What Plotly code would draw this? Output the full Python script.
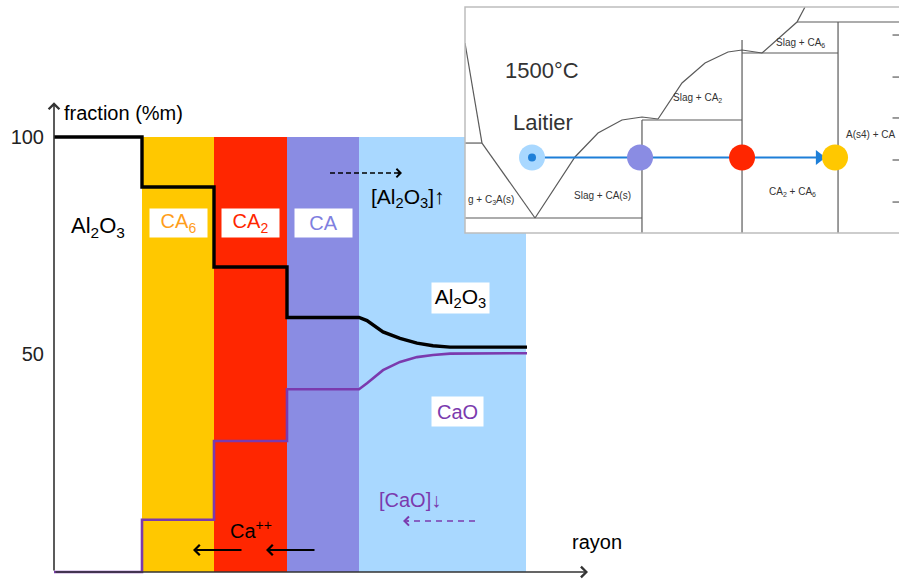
import plotly.graph_objects as go

# ---------------- main chart data ----------------
band_names = ["CA6", "CA2", "CA", "Laitier"]
band_edges = [88, 160, 233, 305, 472]          # rayon (a.u.)
band_colors = ["#FFC800", "#FF2600", "#8A8CE3", "#A9D8FF"]
band_top = 100

al2o3_x = [0, 88, 88, 160, 160, 233, 233, 305, 313, 329, 346, 363, 379, 396, 473]
al2o3_y = [100, 100, 88.5, 88.5, 70.1, 70.1, 58.5, 58.5, 57.8, 55.2, 53.7, 52.6, 52.0, 51.7, 51.7]
cao_x = [0, 88, 88, 160, 160, 233, 233, 305, 313, 329, 346, 363, 379, 396, 473]
cao_y = [0, 0, 12.0, 12.0, 30.1, 30.1, 42.0, 42.0, 43.4, 46.4, 48.3, 49.4, 49.9, 50.2, 50.3]

y_tick_vals = [50, 100]
y_tick_text = ["50", "100"]

# ---------------- inset (phase diagram) data ----------------
# x : wt% Al2O3, y : arbitrary 0-100
inset_lines = [
    [(40.2, 84.07), (42.56, 39.8)],
    [(40.2, 39.8), (42.56, 39.8)],
    [(42.56, 39.8), (49.93, 6.64)],
    [(49.93, 6.64), (52.71, 20.35), (55.48, 33.63), (58.68, 44.25), (62.01, 50.0), (64.79, 51.33), (67.02, 50.44)],
    [(40.2, 6.64), (64.79, 6.64)],
    [(64.79, 50.0), (64.79, 0)],
    [(64.79, 50.0), (78.69, 50.0)],
    [(67.02, 50.44), (70.35, 66.37), (73.55, 75.22), (76.74, 80.09), (78.69, 80.97), (81.47, 79.65)],
    [(78.69, 85.4), (78.69, 0)],
    [(78.69, 79.65), (92.03, 79.65)],
    [(81.47, 79.65), (86.33, 93.36), (87.44, 100)],
    [(86.33, 93.36), (100.5, 93.36)],
    [(92.03, 93.36), (92.03, 0)],
]
inset_ticks_y = [87.6, 69.0, 50.9, 32.3, 13.7]
path_x = [49.51, 64.52, 78.69, 91.61]
path_y = 33.4
path_colors = ["#A9D8FF", "#8A8CE3", "#FF2600", "#FFC800"]

FONT = "Liberation Sans, Arial, sans-serif"
PURPLE = "#7B3AAE"

fig = go.Figure()

# bands
centers = [(a + b) / 2 for a, b in zip(band_edges[:-1], band_edges[1:])]
widths = [b - a for a, b in zip(band_edges[:-1], band_edges[1:])]
fig.add_trace(go.Bar(x=centers, y=[band_top] * len(centers), width=widths, base=0,
                     marker=dict(color=band_colors, line=dict(width=0)),
                     hoverinfo="skip", xaxis="x", yaxis="y"))

fig.add_trace(go.Scatter(x=cao_x, y=cao_y, mode="lines",
                         line=dict(color=PURPLE, width=2.6), xaxis="x", yaxis="y"))
fig.add_trace(go.Scatter(x=al2o3_x, y=al2o3_y, mode="lines",
                         line=dict(color="black", width=3.4), xaxis="x", yaxis="y"))

# inset
fig.add_trace(go.Scatter(x=[40.2, 100.5, 100.5, 40.2, 40.2], y=[0, 0, 100, 100, 0],
                         fill="toself", fillcolor="white", mode="lines",
                         line=dict(width=0, color="white"), xaxis="x2", yaxis="y2"))
lx, ly = [], []
for seg in inset_lines:
    for p in seg:
        lx.append(p[0]); ly.append(p[1])
    lx.append(None); ly.append(None)
for v in inset_ticks_y:
    lx += [99.6, 100.5, None]; ly += [v, v, None]
fig.add_trace(go.Scatter(x=lx, y=ly, mode="lines", line=dict(color="#5a5a5a", width=1.2),
                         xaxis="x2", yaxis="y2"))
fig.add_trace(go.Scatter(x=[path_x[0], 89.0], y=[path_y, path_y], mode="lines",
                         line=dict(color="#1E7FD8", width=2), xaxis="x2", yaxis="y2"))
fig.add_trace(go.Scatter(x=[89.4], y=[path_y], mode="markers",
                         marker=dict(symbol="triangle-right", size=13, color="#1E7FD8"),
                         xaxis="x2", yaxis="y2"))
fig.add_trace(go.Scatter(x=path_x, y=[path_y] * len(path_x), mode="markers",
                         marker=dict(size=26, color=path_colors, line=dict(width=0)),
                         xaxis="x2", yaxis="y2"))
fig.add_trace(go.Scatter(x=[path_x[0]], y=[path_y], mode="markers",
                         marker=dict(size=8, color="#1E7FD8"), xaxis="x2", yaxis="y2"))

ann = []


def txt(x, y, text, color="black", size=20, xanchor="center", bg=None, w=None, h=None,
        xref="x", yref="y"):
    d = dict(x=x, y=y, text=text, showarrow=False, xref=xref, yref=yref,
             xanchor=xanchor, yanchor="middle",
             font=dict(family=FONT, size=size, color=color))
    if bg:
        d.update(bgcolor=bg, borderpad=0)
    if w:
        d.update(width=w)
    if h:
        d.update(height=h)
    ann.append(d)


def arrow(x0, y0, x1, y1, color="black", width=1.5, size=1.0, head=4):
    ann.append(dict(x=x1, y=y1, ax=x0, ay=y0, xref="x", yref="y", axref="x", ayref="y",
                    text="", showarrow=True, arrowhead=head, arrowsize=size,
                    arrowwidth=width, arrowcolor=color, standoff=0, startstandoff=0))


# axes
arrow(0, 0, 0, 108, color="#333", width=1.6, size=1.3)
arrow(0, 0, 534, 0, color="#333", width=1.6, size=1.3)

txt(8, 105.5, "fraction (%m)", xanchor="left")
txt(516, 6.9, "rayon", xanchor="left")
txt(44, 79.3, "Al<sub>2</sub>O<sub>3</sub>", size=22)
txt(124.5, 80.2, "CA<sub>6</sub>", color="#FF9E1B", bg="white", w=57, h=28)
txt(196.5, 80.2, "CA<sub>2</sub>", color="#FF2600", bg="white", w=57, h=28)
txt(269.5, 80.2, "CA", color="#7F80E0", bg="white", w=57, h=28)
txt(354, 86.0, "[Al<sub>2</sub>O<sub>3</sub>]↑", size=21)
txt(406, 63.0, "Al<sub>2</sub>O<sub>3</sub>", bg="white", w=57, h=30, size=21)
txt(403, 36.8, "CaO", color=PURPLE, bg="white", w=51, h=29)
txt(356, 16.6, "[CaO]↓", color=PURPLE)
txt(197, 9.7, "Ca<sup>++</sup>")

# Ca++ arrows
arrow(189, 5.06, 139, 5.06, width=2, size=1.0)
arrow(262, 5.06, 212, 5.06, width=2, size=1.0)

# dashed arrows
shapes = [
    dict(type="line", xref="x", yref="y", x0=276, x1=345, y0=91.72, y1=91.72,
         line=dict(color="black", width=1.5, dash="5px,3px")),
    dict(type="line", xref="x", yref="y", x0=421, x1=353, y0=11.72, y1=11.72,
         line=dict(color=PURPLE, width=1.6, dash="6px,5px")),
    dict(type="rect", xref="x2 domain", yref="y2 domain", x0=0, x1=1.02, y0=0, y1=1,
         line=dict(color="#BDBDBD", width=1.5), fillcolor="rgba(0,0,0,0)"),
]
arrow(342, 91.72, 348, 91.72, width=1.5, size=1.1)
arrow(356, 11.72, 349, 11.72, color=PURPLE, width=1.6, size=1.1)

# inset texts
IC = "#333"
txt(50.9, 72.1, "1500°C", size=22, color=IC, xref="x2", yref="y2")
txt(51.04, 49.1, "Laitier", size=22, color=IC, xref="x2", yref="y2")
txt(86.75, 84.07, "Slag + CA<sub>6</sub>", size=10, color=IC, xref="x2", yref="y2")
txt(72.57, 59.7, "Slag + CA<sub>2</sub>", size=10, color=IC, xref="x2", yref="y2")
txt(59.37, 16.8, "Slag + CA(s)", size=10, color=IC, xref="x2", yref="y2")
txt(40.3, 14.6, "g + C<sub>3</sub>A(s)", size=10, color=IC, xanchor="left", xref="x2", yref="y2")
txt(85.77, 18.1, "CA<sub>2</sub> + CA<sub>6</sub>", size=10, color=IC, xref="x2", yref="y2")
txt(100.4, 43.4, "A(s4) + CA", size=10, color=IC, xanchor="right", xref="x2", yref="y2")

fig.update_layout(
    width=899, height=579,
    margin=dict(l=0, r=0, t=0, b=0),
    paper_bgcolor="white", plot_bgcolor="white",
    showlegend=False, barmode="overlay",
    font=dict(family=FONT),
    xaxis=dict(domain=[54 / 899, 1], range=[0, 845], visible=False, fixedrange=True),
    yaxis=dict(domain=[0, 1], range=[-1.609, 131.49], showgrid=False, zeroline=False,
               showline=False, tickvals=y_tick_vals, ticktext=y_tick_text, ticks="",
               tickfont=dict(size=20, color="#222", family=FONT), ticklabelstandoff=9,
               automargin=False, fixedrange=True),
    xaxis2=dict(domain=[465 / 899, 1], range=[40.2, 100.5], visible=False, anchor="y2",
                fixedrange=True),
    yaxis2=dict(domain=[1 - 233 / 579, 1 - 7 / 579], range=[0, 100], visible=False,
                anchor="x2", fixedrange=True),
    annotations=ann,
    shapes=shapes,
)

fig.write_html("out.html", config={"displayModeBar": False},
               post_script="document.body.style.margin='0';document.body.style.overflow='hidden';")
